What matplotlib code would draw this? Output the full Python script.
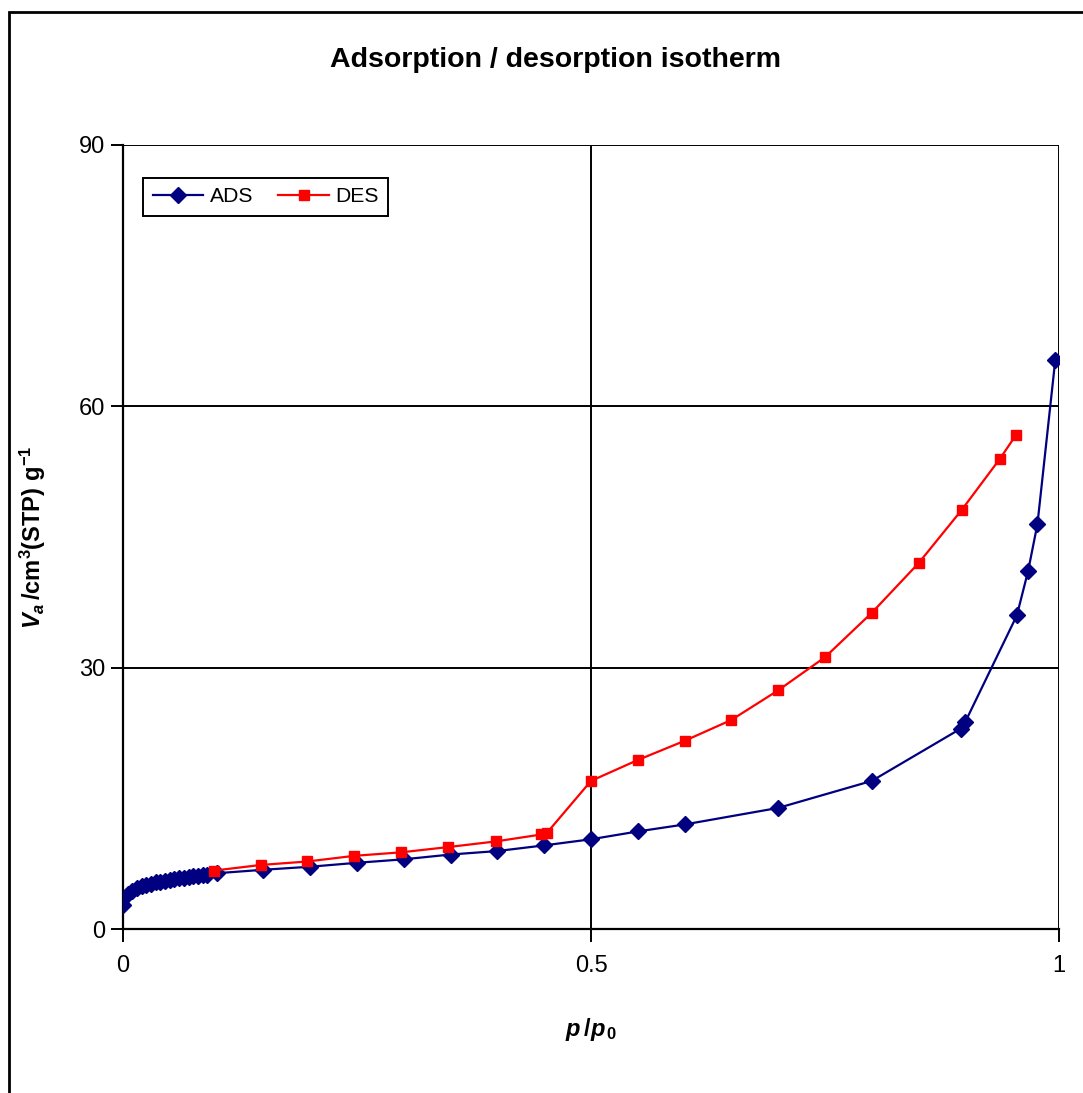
import matplotlib
matplotlib.use("Agg")
import matplotlib.pyplot as plt
from matplotlib.patches import Rectangle

plt.rcParams['font.family'] = ['Liberation Sans', 'DejaVu Sans']
plt.rcParams['mathtext.fontset'] = 'custom'
plt.rcParams['mathtext.rm'] = 'Liberation Sans:bold'
plt.rcParams['mathtext.it'] = 'Liberation Sans:bold:italic'
plt.rcParams['mathtext.bf'] = 'Liberation Sans:bold'

# 흡착 (ADS) 데이터
ads_p = [0.0, 0.005, 0.01, 0.015, 0.02, 0.025, 0.03, 0.035, 0.04, 0.045, 0.05,
         0.055, 0.06, 0.065, 0.07, 0.075, 0.08, 0.085, 0.09, 0.1,
         0.15, 0.2, 0.25, 0.3, 0.35, 0.4, 0.45, 0.5, 0.55, 0.6, 0.7, 0.8,
         0.895, 0.9, 0.955, 0.967, 0.977, 0.996]
ads_v = [2.7, 4.0, 4.4, 4.7, 4.9, 5.1, 5.2, 5.35, 5.45, 5.55, 5.65,
         5.75, 5.85, 5.9, 6.0, 6.05, 6.1, 6.15, 6.2, 6.4,
         6.8, 7.15, 7.6, 8.0, 8.55, 8.95, 9.6, 10.3, 11.2, 12.0, 13.9, 17.0,
         23.0, 23.8, 36.0, 41.1, 46.5, 65.3]

# 탈착 (DES) 데이터
des_p = [0.954, 0.937, 0.896, 0.85, 0.8, 0.75, 0.7, 0.65, 0.6, 0.55, 0.5,
         0.453, 0.447, 0.398, 0.347, 0.297, 0.247, 0.197, 0.147, 0.097]
des_v = [56.7, 54.0, 48.1, 42.0, 36.3, 31.2, 27.4, 24.0, 21.6, 19.4, 17.0,
         11.05, 10.85, 10.05, 9.4, 8.8, 8.4, 7.75, 7.35, 6.7]

x_ticks = [0, 0.5, 1]
x_tick_labels = ["0", "0.5", "1"]
y_ticks = [0, 30, 60, 90]

fig = plt.figure(figsize=(10.83, 10.93), dpi=100)
ax = fig.add_axes([123 / 1083, 1 - 929 / 1093, 936 / 1083, 784 / 1093])

ax.plot(ads_p, ads_v, color="#000080", marker="D", markersize=8, lw=1.6,
        label="ADS", zorder=3)
ax.plot(des_p, des_v, color="#ff0000", marker="s", markersize=7.5, lw=1.6,
        label="DES", zorder=4)

ax.set_xlim(0, 1)
ax.set_ylim(0, 90)
ax.set_xticks(x_ticks)
ax.set_xticklabels(x_tick_labels)
ax.set_yticks(y_ticks)
ax.grid(True, color="black", lw=1.4)
ax.set_axisbelow(True)
for side in ["top", "right"]:
    ax.spines[side].set_visible(False)
for side in ["left", "bottom"]:
    ax.spines[side].set_linewidth(1.6)
ax.tick_params(direction="out", length=9, width=1.4, labelsize=17)
ax.tick_params(axis="x", pad=10)
ax.tick_params(axis="y", pad=4)

ax.set_xlabel(r"$p\,/p_{\,0}$", fontsize=17, labelpad=28)
ax.set_ylabel(r"$V_a\,\mathrm{/cm^3(STP)\ g^{-1}}$", fontsize=17, labelpad=22)

fig.text(556 / 1083, 1 - 60 / 1093, "Adsorption / desorption isotherm",
         fontsize=20.5, fontweight="bold", ha="center", va="center")

leg = ax.legend(loc="upper left", bbox_to_anchor=(0.0214, 0.958), ncol=2,
                borderaxespad=0, fontsize=15.2, handlelength=2.4,
                handletextpad=0.3, columnspacing=1.2, borderpad=0.45,
                fancybox=False, framealpha=1, edgecolor="black")
leg.get_frame().set_linewidth(1.4)

# 바깥 테두리
fig.patches.append(Rectangle((9 / 1083, -0.1), 1.2, 1.1 - 12 / 1093,
                             transform=fig.transFigure, fill=False,
                             edgecolor="black", lw=2))

plt.savefig("out.png", dpi=100)
